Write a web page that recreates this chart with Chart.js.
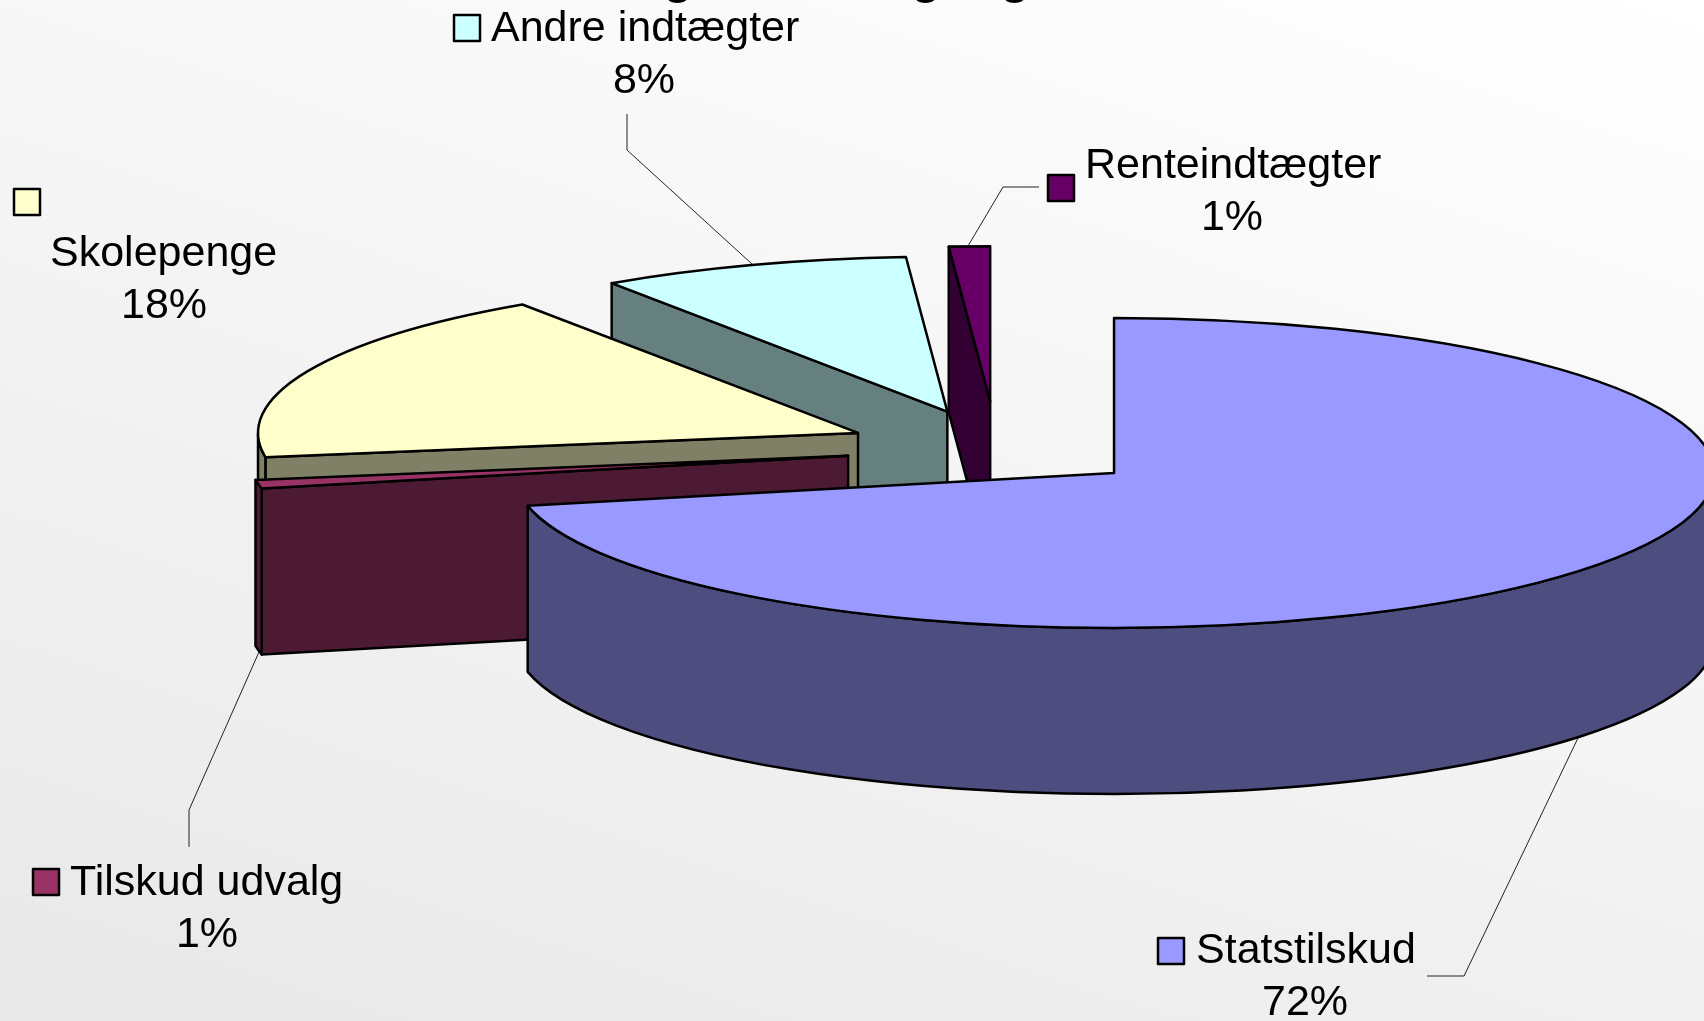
<!DOCTYPE html>
<html><head><meta charset="utf-8">
<script src="https://cdn.jsdelivr.net/npm/chart.js@4"></script>
<style>
html,body{margin:0;padding:0;width:1704px;height:1021px;overflow:hidden;
background:linear-gradient(198deg,#ffffff 0%,#f6f6f6 40%,#e8e8e8 100%);}
canvas{display:block}
</style></head><body>
<canvas id="c" width="1704" height="1021"></canvas>
<script>
const categories = ["Statstilskud","Tilskud udvalg","Skolepenge","Andre indtægter","Renteindtægter"];
const values = [71.6, 0.9, 18.05, 8.35, 1.1];
const topColors = ["#9999ff","#993366","#ffffcc","#ccffff","#660066"];
const sideColors = ["#4d4d80","#4d1a33","#808066","#668080","#330033"];
const explode = [151,151,151,151,183];
const titleText = "Indtægtsfordeling og";

const TILT = 155/600, DEPTH = 166, RADIUS = 600;
// Label placement: marker box, first text line, second (percent) line
const labelLayout = [
  {box:[1157,937],  name:[1196,963,'left'],  pct:[1305,1015]},
  {box:[32,868],    name:[70,895,'left'],    pct:[207,947]},
  {box:[13,188],    name:[50,266,'left'],    pct:[164,318]},
  {box:[453,14],    name:[491,41,'left'],    pct:[644,93]},
  {box:[1047,174],  name:[1085,178,'left'],  pct:[1232,230]}
];
const leaders = [
  [[1578,738],[1464,976],[1427,976]],
  [[259,652],[189,810],[189,847]],
  [],
  [[752,264],[627,150],[627,114]],
  [[968,246],[1003,187],[1039,187]]
];

const pie3d = {
  id:'pie3d',
  beforeDatasetsDraw(chart){
    const ctx = chart.ctx, arcs = chart.getDatasetMeta(0).data;
    const TAU = Math.PI*2;
    ctx.lineJoin='round';
    ctx.lineWidth=2.5;
    ctx.strokeStyle='#000';
    for(let i=arcs.length-1;i>=0;i--){
      const a = arcs[i], s=a.startAngle, e=a.endAngle, R=a.outerRadius;
      const mid=(s+e)/2;
      const ax=a.x+Math.cos(mid)*explode[i];
      const ay=a.y+Math.sin(mid)*explode[i]*TILT;
      const px=t=>ax+Math.cos(t)*R, py=t=>ay+Math.sin(t)*R*TILT;
      ctx.fillStyle=sideColors[i];
      // radial faces turned towards the viewer
      const face=t=>{
        ctx.beginPath();ctx.moveTo(ax,ay);ctx.lineTo(px(t),py(t));
        ctx.lineTo(px(t),py(t)+DEPTH);ctx.lineTo(ax,ay+DEPTH);ctx.closePath();
        ctx.fill();ctx.stroke();
      };
      if(Math.cos(s)<-1e-6) face(s);
      if(Math.cos(e)>1e-6) face(e);
      // outer wall: the part of the rim on the front half
      for(const k of [0,TAU]){
        const w0=Math.max(s,k), w1=Math.min(e,k+Math.PI);
        if(w1>w0){
          ctx.beginPath();
          ctx.ellipse(ax,ay,R,R*TILT,0,w0,w1,false);
          ctx.lineTo(px(w1),py(w1)+DEPTH);
          ctx.ellipse(ax,ay+DEPTH,R,R*TILT,0,w1,w0,true);
          ctx.closePath();ctx.fill();ctx.stroke();
        }
      }
      // top face, drawn by the library's arc element
      ctx.save();
      ctx.translate(ax,ay);ctx.scale(1,TILT);ctx.translate(-a.x,-a.y);
      a.draw(ctx);
      ctx.restore();
      ctx.beginPath();ctx.moveTo(ax,ay);
      ctx.ellipse(ax,ay,R,R*TILT,0,s,e,false);
      ctx.closePath();ctx.stroke();
    }
    return false;
  },
  afterDraw(chart){
    const ctx=chart.ctx;
    ctx.save();
    // title, cropped by the top of the picture
    ctx.font='bold 48px "Liberation Sans"';
    ctx.fillStyle='#000';ctx.textAlign='left';ctx.textBaseline='alphabetic';
    const tx=678-ctx.measureText("Indtæ").width-ctx.measureText("g").width/2;
    ctx.wordSpacing='17px';
    ctx.fillText(titleText,tx,-7);
    ctx.wordSpacing='0px';
    // leaders
    ctx.lineWidth=1;ctx.strokeStyle='#222';
    leaders.forEach(l=>{
      if(!l.length)return;
      ctx.beginPath();l.forEach((p,j)=>j?ctx.lineTo(p[0],p[1]):ctx.moveTo(p[0],p[1]));ctx.stroke();
    });
    // labels
    ctx.font='43px "Liberation Sans"';
    categories.forEach((c,i)=>{
      const L=labelLayout[i];
      ctx.fillStyle=topColors[i];ctx.strokeStyle='#000';ctx.lineWidth=2.5;
      ctx.beginPath();ctx.rect(L.box[0]+1,L.box[1]+1,26,26);ctx.fill();ctx.stroke();
      ctx.fillStyle='#000';
      ctx.textAlign='left';
      ctx.fillText(c,L.name[0],L.name[1]);
      ctx.textAlign='center';
      ctx.fillText(Math.round(values[i])+'%',L.pct[0],L.pct[1]);
    });
    ctx.restore();
  }
};

new Chart(document.getElementById('c'),{
  type:'pie',
  data:{labels:categories,datasets:[{data:values,backgroundColor:topColors,borderWidth:0,radius:RADIUS}]},
  options:{
    responsive:false,animation:false,
    layout:{padding:{left:289,right:0,top:0,bottom:124}},
    plugins:{legend:{display:false},tooltip:{enabled:false},title:{display:false}}
  },
  plugins:[pie3d]
});
</script>
</body></html>
